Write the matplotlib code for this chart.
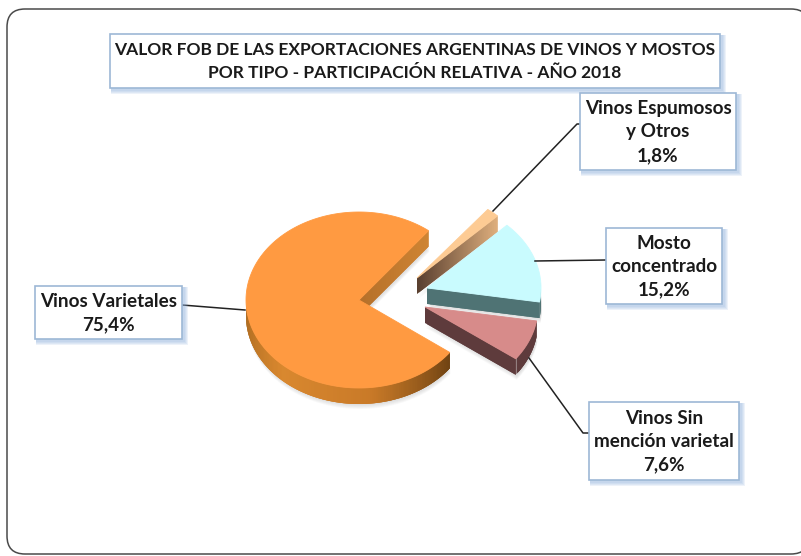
import numpy as np
import matplotlib
matplotlib.use("Agg")
import matplotlib.pyplot as plt
from matplotlib.colors import LinearSegmentedColormap
from matplotlib.patches import FancyBboxPatch, Rectangle

TITLE = "VALOR FOB DE LAS EXPORTACIONES ARGENTINAS DE VINOS Y MOSTOS\nPOR TIPO - PARTICIPACIÓN RELATIVA - AÑO 2018"
CATEGORIES = ["Vinos Varietales", "Vinos Sin\nmención varietal", "Mosto\nconcentrado", "Vinos Espumosos\ny Otros"]
SHARES = [75.4, 7.6, 15.2, 1.8]
SHARE_LABELS = ["75,4%", "7,6%", "15,2%", "1,8%"]

# ---- layout, in reference pixels ----
W, H = 801, 556
START_ANGLE = 52
DEPTH = 16
TIPS = [(359, 300), (425, 307), (427, 288), (417, 278)]
RADII = [(113, 88), (113, 87), (114, 88), (115, 87)]
TOP_COLORS = ["#FF9A41", "#D78B8A", "#C9FBFE", "#FDCB94"]
FACE_COLORS = [("#B5702A", "#CF8433"), ("#5E3B3C", "#5E3B3C"), ("#4F7374", "#4F7374"), ("#5A4030", "#E0B07E")]
RIM_COLORS = [["#A8681F", "#D9882F", "#C97A28", "#6E4212"], ["#5E3B3C", "#5E3B3C"], ["#4F7374", "#4F7374"], ["#C89A68", "#C89A68"]]
BOXES = [(35, 286, 147, 53), (589, 402, 150, 78), (606, 228, 116, 76), (580, 93, 156, 77)]
LEADERS = [
    [(182, 305), (245, 310)],
    [(529, 358), (583, 433), (589, 433)],
    [(535, 261), (606, 260)],
    [(493, 211), (577, 124), (581, 124)],
]


def point(tip, radii, deg):
    t = np.radians(deg)
    return tip[0] + radii[0] * np.cos(t), tip[1] - radii[1] * np.sin(t)


def draw_box(ax, x, y, w, h, text, size, spacing, zorder=10):
    # soft blue shadow, lower right
    for i in range(4, 0, -1):
        ax.add_patch(Rectangle((x + 1, y + 1), w + i + 1, h + i + 1, fc="#8FB0DC", ec="none", alpha=0.16, zorder=zorder))
    ax.add_patch(Rectangle((x, y), w, h, fc="white", ec="#9DB8D6", lw=1.2, zorder=zorder + 1))
    ax.text(x + w / 2, y + h / 2 + 0.5, text, ha="center", va="center", fontsize=size, fontweight="bold",
            color="#1A1A1A", linespacing=spacing, zorder=zorder + 2)


def draw_slice(ax, i, a0, a1):
    tip, radii = TIPS[i], RADII[i]
    angles = np.linspace(a0, a1, 200)
    xs, ys = point(tip, radii, angles)

    # soft grey shadow under the whole slice
    for k in range(5, 0, -1):
        ax.fill(np.r_[tip[0], xs] + 1, np.r_[tip[1], ys] + DEPTH + k, fc="#808080", ec="none", alpha=0.05, zorder=2)

    # cut face under the first edge, quads overlap so no seams show
    ex, ey = point(tip, radii, a0)
    cmap = LinearSegmentedColormap.from_list("face", FACE_COLORS[i])
    steps = np.linspace(0, 1, 41)
    for s0 in steps[:-1]:
        s1 = min(s0 + 0.05, 1)
        x0, x1 = tip[0] + (ex - tip[0]) * s0, tip[0] + (ex - tip[0]) * s1
        y0, y1 = tip[1] + (ey - tip[1]) * s0, tip[1] + (ey - tip[1]) * s1
        ax.fill([x0, x1, x1, x0], [y0, y1, y1 + DEPTH, y0 + DEPTH], fc=cmap(s0), ec="none", zorder=3)

    # front rim
    cmap = LinearSegmentedColormap.from_list("rim", RIM_COLORS[i])
    front = np.arange(np.ceil(a0), a1 + 1)
    front = front[np.sin(np.radians(front)) < 0.02]
    for d0 in front:
        d1 = min(d0 + 3, a1)
        if d1 <= d0:
            continue
        sx, sy = point(tip, radii, np.linspace(d0, d1, 5))
        c = cmap((d0 - front[0]) / max(front[-1] - front[0], 1))
        ax.fill(np.r_[sx, sx[::-1]], np.r_[sy, sy[::-1] + DEPTH], fc=c, ec="none", zorder=3)

    # top surface
    ax.fill(np.r_[tip[0], xs], np.r_[tip[1], ys], fc=TOP_COLORS[i], ec=TOP_COLORS[i], lw=0.6, zorder=4)


def main():
    plt.rcParams["font.family"] = ["Lato", "DejaVu Sans"]
    fig = plt.figure(figsize=(W / 100, H / 100), dpi=100)
    ax = fig.add_axes([0, 0, 1, 1])
    ax.set_xlim(0, W)
    ax.set_ylim(H, 0)
    ax.axis("off")

    # slide frame, right side runs off the picture
    ax.add_patch(FancyBboxPatch((7, 9), 802, 545, boxstyle="round,pad=0,rounding_size=18",
                                fc="white", ec="#4A4A4A", lw=1.1, zorder=1))

    sweep = np.array(SHARES) / sum(SHARES) * 360
    starts = START_ANGLE + np.r_[0, np.cumsum(sweep)[:-1]]
    for i in range(len(SHARES)):
        draw_slice(ax, i, starts[i], starts[i] + sweep[i])

    for pts in LEADERS:
        px, py = zip(*pts)
        ax.plot(px, py, color="#222222", lw=1.1, zorder=6)

    draw_box(ax, 110, 34, 610, 54, TITLE, 12.5, 1.5)
    for i, (x, y, w, h) in enumerate(BOXES):
        draw_box(ax, x, y, w, h, CATEGORIES[i] + "\n" + SHARE_LABELS[i], 13.6, 1.45)

    fig.savefig("out.png", dpi=100)
    plt.close(fig)


if __name__ == "__main__":
    main()
